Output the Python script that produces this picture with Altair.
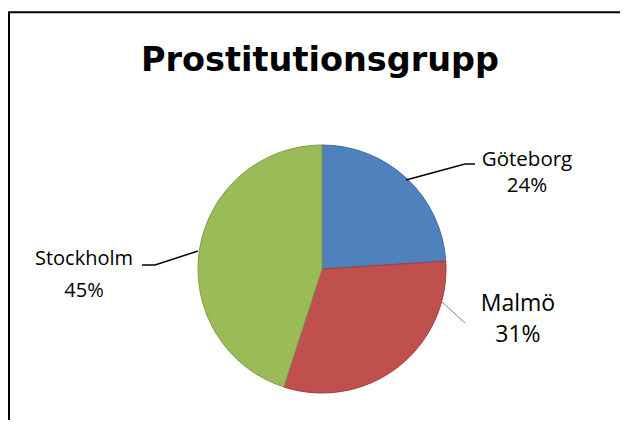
import altair as alt
import pandas as pd

TITLE = "Prostitutionsgrupp"
CATEGORIES = ["Göteborg", "Malmö", "Stockholm"]
PERCENTS = [24, 31, 45]
COLORS = ["#4F81BD", "#C0504D", "#9BBB59"]
EDGE_COLORS = ["#3E6C9F", "#9E403D", "#7F9B48"]

df = pd.DataFrame({"cat": CATEGORIES, "pct": PERCENTS, "idx": list(range(len(CATEGORIES)))})

FONT = "Open Sans"
CX, CY, R = 314, 261, 124
W, H = 612, 412

base = alt.Chart(df)

pie = base.mark_arc(outerRadius=R, strokeWidth=1).encode(
    theta=alt.Theta("pct:Q", stack=True),
    order=alt.Order("idx:Q"),
    color=alt.Color("cat:N", scale=alt.Scale(domain=CATEGORIES, range=COLORS), legend=None),
    stroke=alt.Stroke("cat:N", scale=alt.Scale(domain=CATEGORIES, range=EDGE_COLORS), legend=None),
    x=alt.value(CX),
    y=alt.value(CY),
)


def label_layer(cat, dx, dy, size, line_height):
    return base.transform_calculate(
        lab=f"datum.cat == '{cat}' ? datum.cat + '\\n' + datum.pct + '%' : ''"
    ).mark_text(
        radius=160, dx=dx, dy=dy, font=FONT, fontSize=size, lineHeight=line_height,
        lineBreak="\n", align="center", baseline="alphabetic", color="#000000",
    ).encode(
        theta=alt.Theta("pct:Q", stack=True),
        order=alt.Order("idx:Q"),
        text="lab:N",
        x=alt.value(CX),
        y=alt.value(CY),
    )


labels = [
    label_layer("Göteborg", 95.5, 13.6, 20.5, 26),
    label_layer("Malmö", 97.9, -84.4, 23, 31),
    label_layer("Stockholm", -80, 21, 20, 32),
]

one = alt.Data(values=[{}])


def seg(x1, y1, x2, y2, color="#000000", w=1.5):
    return alt.Chart(one).mark_rule(color=color, strokeWidth=w).encode(
        x=alt.value(x1), y=alt.value(y1), x2=alt.value(x2), y2=alt.value(y2)
    )


leaders = [
    seg(398, 172, 457, 156),
    seg(457, 156, 467, 156),
    seg(434, 294, 457, 315, color="#808080", w=1),
    seg(134, 257, 147, 257),
    seg(147, 257, 190, 243),
]

frame = [
    seg(1, 4.3, 1, H, color="#000000", w=2),
    seg(0, 4.3, W, 4.3, color="#000000", w=2),
]

title = alt.Chart(pd.DataFrame({"t": [TITLE]})).mark_text(
    font="DejaVu Sans", fontSize=33.5, fontWeight="bold", align="center",
    baseline="alphabetic", color="#000000"
).encode(text="t:N", x=alt.value(312), y=alt.value(63))

chart = alt.layer(pie, *labels, *leaders, *frame, title).properties(
    width=W, height=H, padding=0, autosize=alt.AutoSizeParams(type="none")
).configure_view(stroke=None)

chart.save("out.html", embed_options={"renderer": "svg", "actions": False})
